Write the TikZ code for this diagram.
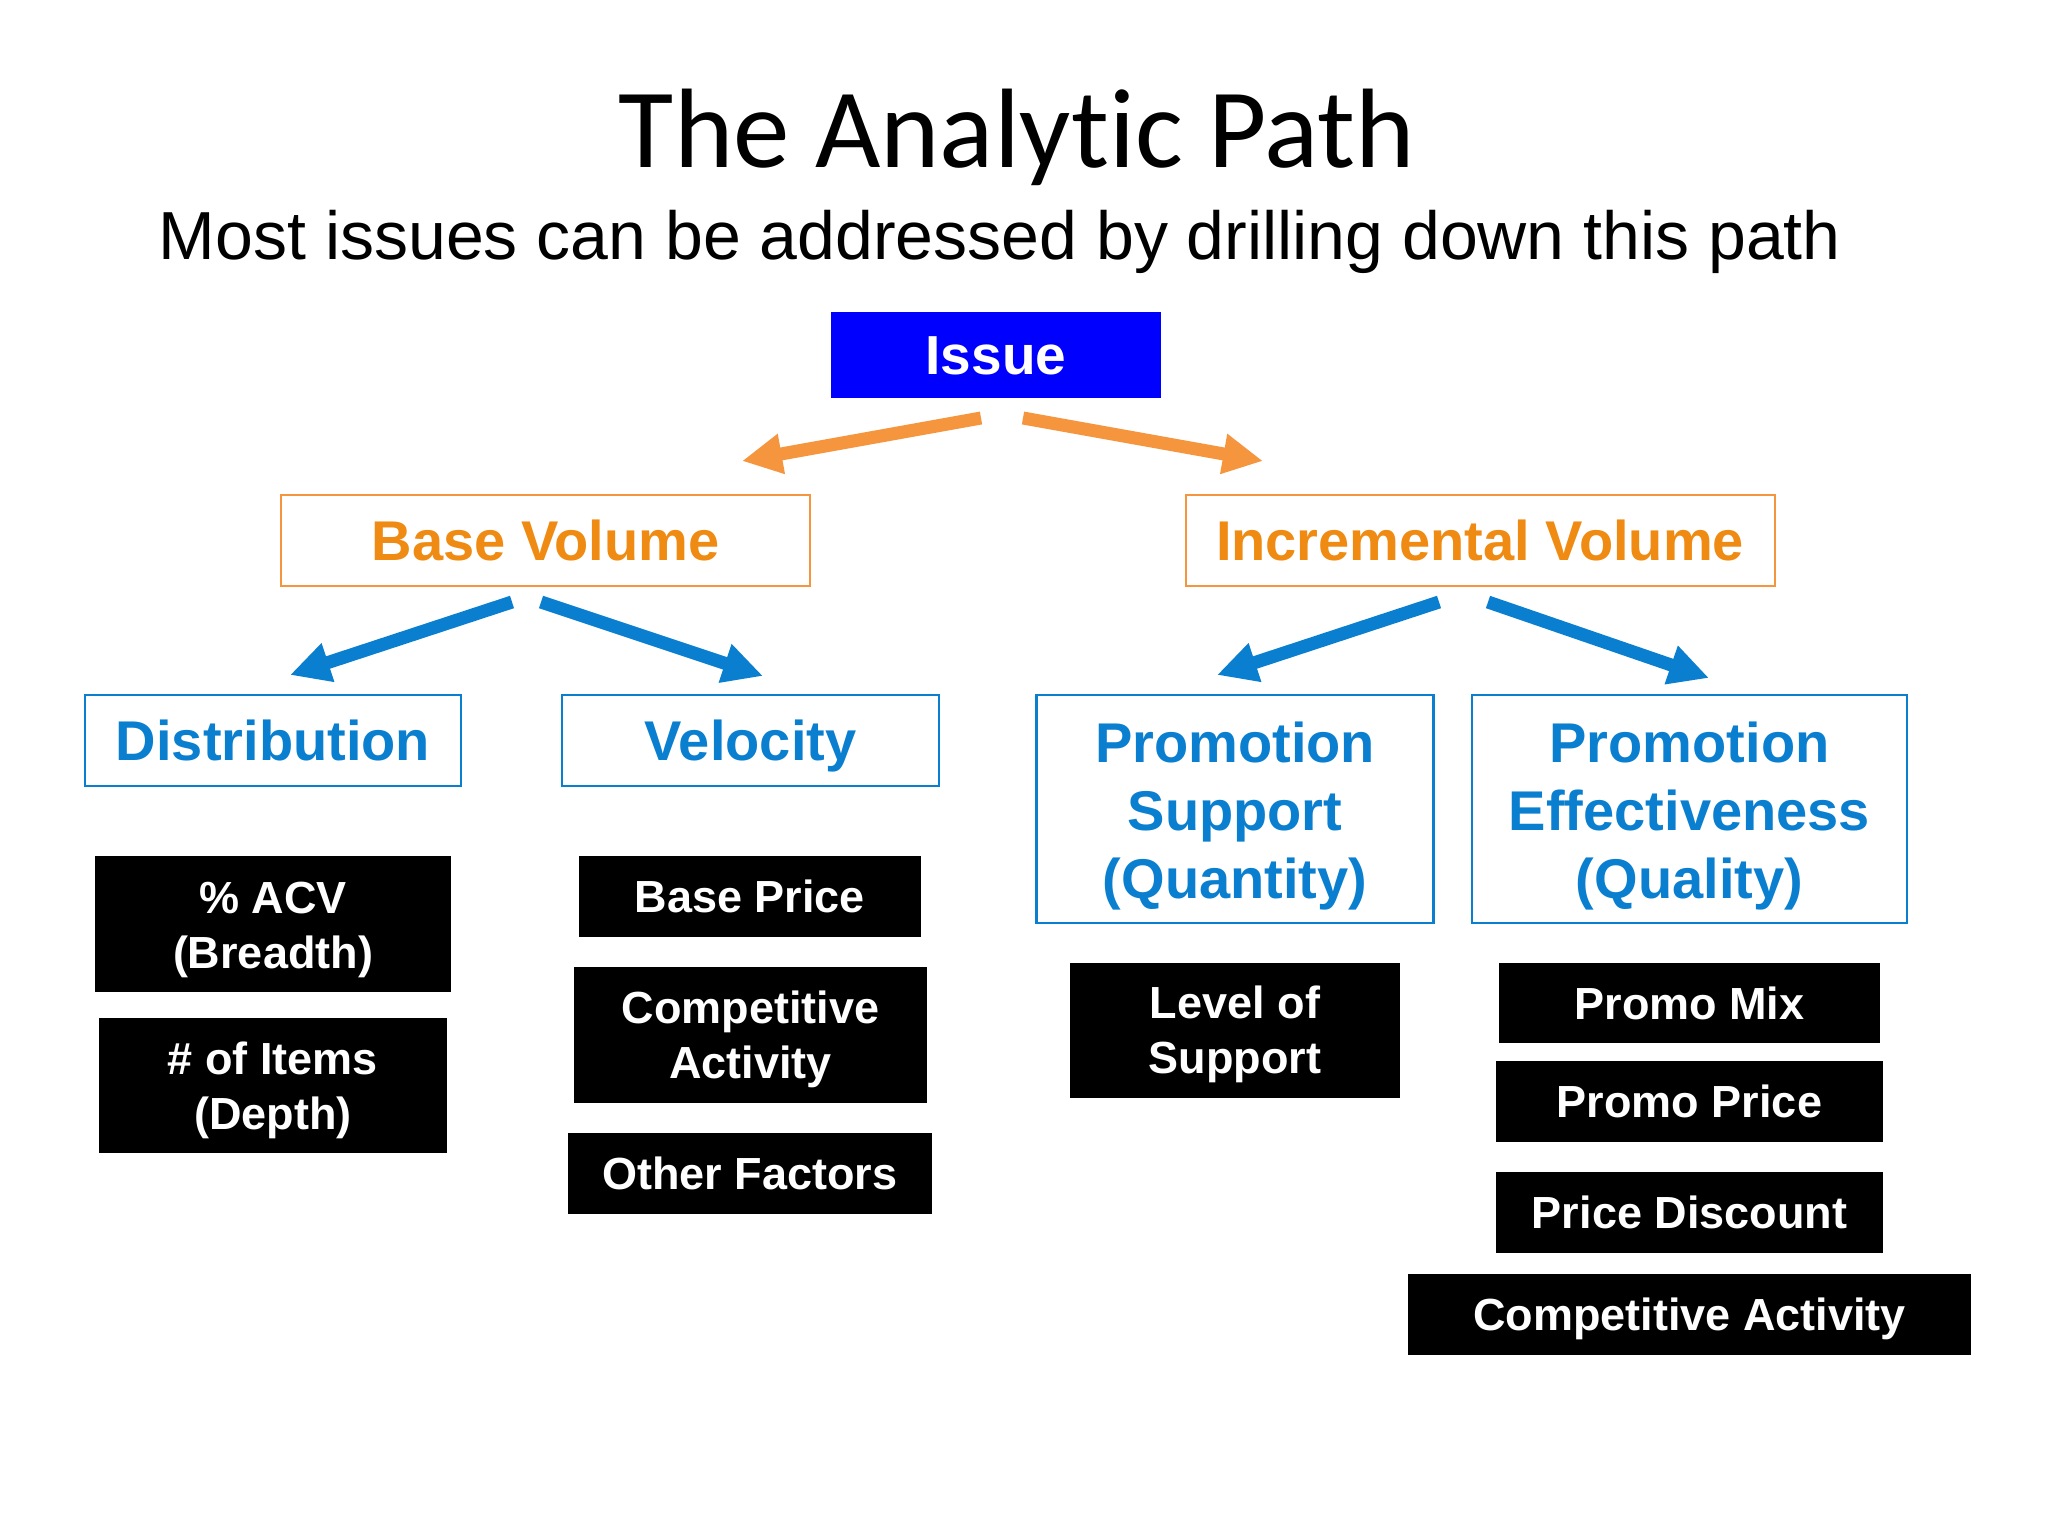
\documentclass[tikz,border=0pt]{standalone}
\usepackage{fontspec}
\setmainfont{Liberation Sans}
\newfontfamily\titlefont[Ligatures=NoCommon]{Carlito}
\usetikzlibrary{arrows.meta}
\definecolor{issueblue}{HTML}{0000FF}
\definecolor{arroworange}{HTML}{F5963F}
\definecolor{textorange}{HTML}{EF8A12}
\definecolor{mblue}{HTML}{0B7FCF}
\newcommand{\tstrut}[1]{\rule{0pt}{#1}}
\tikzset{
  base/.style={inner sep=0pt, outer sep=0pt, align=center},
  singlebig/.style={text height=20.2pt, text depth=0pt},
  singlesmall/.style={text height=16.2pt, text depth=0pt},
  issuebox/.style={base, fill=issueblue, text=white, font=\fontsize{27.5pt}{33pt}\selectfont\bfseries},
  orangebox/.style={base, singlebig, draw=arroworange, line width=1pt, text=textorange, fill=white,
    font=\fontsize{28pt}{34pt}\selectfont\bfseries},
  bluebox/.style={base, draw=mblue, line width=1.2pt, text=mblue, fill=white,
    font=\fontsize{28pt}{34pt}\selectfont\bfseries},
  blackbox/.style={base, fill=black, text=white,
    font=\fontsize{22.5pt}{27.5pt}\selectfont\bfseries},
  oarrow/.style={arroworange, line width=6.5pt, -{Triangle[length=20pt,width=19pt]}},
  barrow/.style={mblue, line width=6.5pt, -{Triangle[length=20pt,width=19pt]}},
}
\begin{document}
\begin{tikzpicture}[x=0.5pt,y=-0.5pt]
\useasboundingbox[fill=white] (0,0) rectangle (2048,1536);
% titles
\node[base, anchor=base, font=\titlefont\fontsize{56.5pt}{60pt}\selectfont] (title) at (1017,167) {The Analyt\kern0pt ic Path};
\node[base, anchor=base, font=\fontsize{34pt}{40pt}\selectfont] (subtitle) at (1000,259) {Most issues can be addressed by drilling down this path};
% level 1
\node[issuebox, text height=19.8pt, text depth=-4pt, minimum width=165pt, minimum height=43pt] (issue) at (996,355) {Issue};
% level 2
\node[orangebox, minimum width=264.5pt, minimum height=45.5pt] (basevol) at (545.5,540.5) {Base Volume};
\node[orangebox, minimum width=294.5pt, minimum height=45.5pt] (incvol) at (1480,540.5) {Incremental Volume};
% level 3
\node[bluebox, singlebig, minimum width=188pt, minimum height=45.5pt] (dist) at (273,740.5) {Distribution};
\node[bluebox, singlebig, minimum width=188.5pt, minimum height=45.5pt] (vel) at (750.5,740.5) {Velocity};
\node[bluebox, minimum width=198.5pt, minimum height=114pt] (promsup) at (1235,809) {\tstrut{27pt}Promotion\\Support\\(Quantity)};
\node[bluebox, minimum width=217.5pt, minimum height=114pt] (promeff) at (1689.5,809) {\tstrut{27pt}Promotion\\Effectiveness\\(Quality)};
% level 4
\node[blackbox, minimum width=178pt, minimum height=68pt] (acv) at (273,924) {\tstrut{21.5pt}\% ACV\\(Breadth)};
\node[blackbox, minimum width=174pt, minimum height=67.5pt] (items) at (273,1085.5) {\tstrut{21.5pt}\# of Items\\(Depth)};
\node[blackbox, singlesmall, minimum width=171pt, minimum height=40.5pt] (bprice) at (750,896.5) {Base Price};
\node[blackbox, minimum width=176.5pt, minimum height=68pt] (compl) at (750.5,1035) {\tstrut{20.5pt}Competitive\\Activity};
\node[blackbox, singlesmall, minimum width=182pt, minimum height=40.5pt] (other) at (750,1173.5) {Other Factors};
\node[blackbox, minimum width=165pt, minimum height=67.5pt] (level) at (1235,1030.5) {\tstrut{20.5pt}Level of\\Support};
\node[blackbox, singlesmall, minimum width=190.5pt, minimum height=40pt] (pmix) at (1689.5,1003) {Promo Mix};
\node[blackbox, singlesmall, minimum width=193.5pt, minimum height=40.5pt] (pprice) at (1689.5,1101.5) {Promo Price};
\node[blackbox, singlesmall, minimum width=193.5pt, minimum height=40.5pt] (pdisc) at (1689.5,1212.5) {Price Discount};
\node[blackbox, singlesmall, minimum width=281.5pt, minimum height=40.5pt] (compr) at (1689.5,1314.5) {Competitive Activity};
% arrow end points
\coordinate (i1) at (981,418);  \coordinate (i1t) at (742,461);
\coordinate (i2) at (1023,418); \coordinate (i2t) at (1263,461);
\coordinate (b1) at (512,602);  \coordinate (b1t) at (290,675);
\coordinate (b2) at (541,602);  \coordinate (b2t) at (763,676);
\coordinate (c1) at (1439,602); \coordinate (c1t) at (1217,675);
\coordinate (c2) at (1488,602); \coordinate (c2t) at (1709,678);
\draw[oarrow] (i1) -- (i1t);
\draw[oarrow] (i2) -- (i2t);
\draw[barrow] (b1) -- (b1t);
\draw[barrow] (b2) -- (b2t);
\draw[barrow] (c1) -- (c1t);
\draw[barrow] (c2) -- (c2t);
\end{tikzpicture}
\end{document}
